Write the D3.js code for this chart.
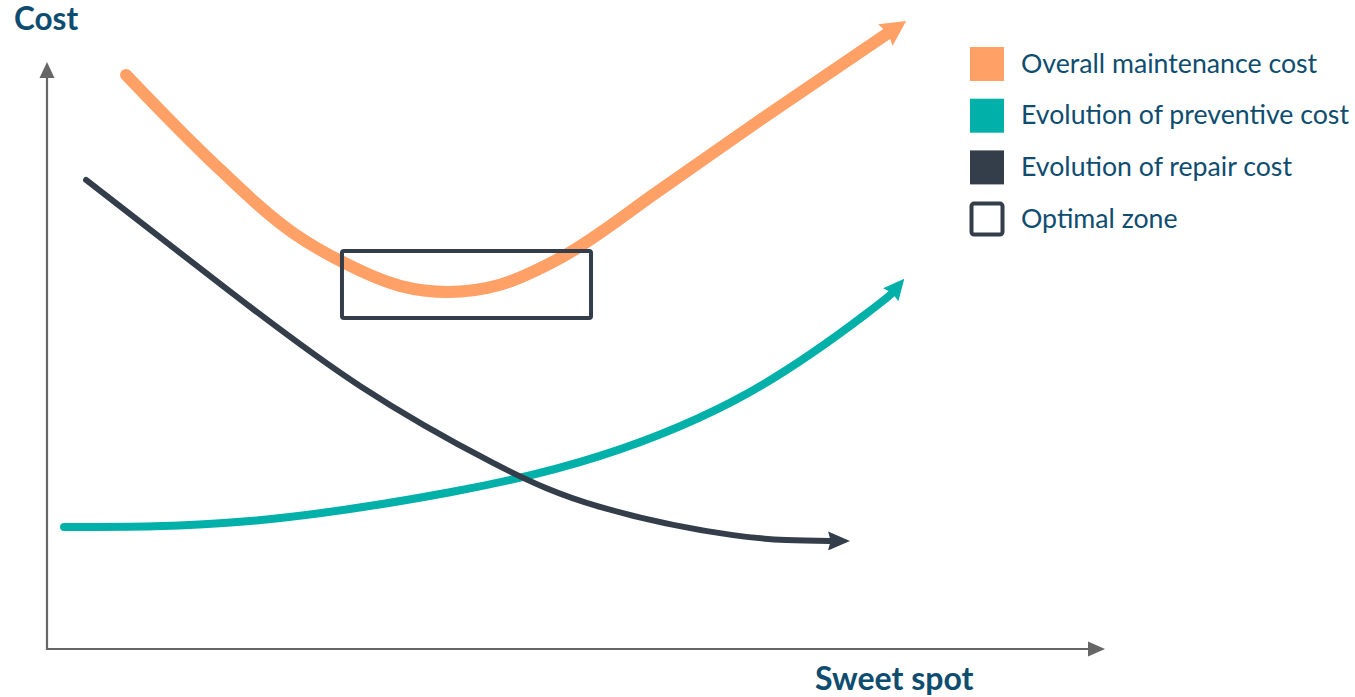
<!DOCTYPE html>
<html>
<head>
<meta charset="utf-8">
<script src="https://cdn.jsdelivr.net/npm/d3@7"></script>
<style>
  html, body { margin: 0; padding: 0; background: #ffffff; }
  svg { display: block; }
  text { font-family: Lato, "Noto Sans", sans-serif; }
</style>
</head>
<body>
<svg id="chart" width="1355" height="697"></svg>
<script>
// ---- data (abstract units: x = effort / sweet spot axis, y = cost) ----
const seriesNames = ["Overall maintenance cost", "Evolution of preventive cost", "Evolution of repair cost", "Optimal zone"];
const seriesColors = ["#ffa066", "#00b0a9", "#333e4a", "#333e4a"];

const overallX = [7.47, 15.41, 23.25, 27.88, 33.36, 37.90, 42.82, 48.49, 57.94, 67.39, 79.40];
const overallY = [97.8, 83.3, 70.9, 65.98, 61.87, 60.82, 62.06, 66.59, 78.19, 90.1, 104.8];

const preventiveX = [1.61, 19.19, 38.09, 52.27, 66.45, 77.50, 79.87];
const preventiveY = [20.8, 21.8, 26.7, 32.9, 43.8, 57.2, 60.6];

const repairX = [3.69, 17.01, 29.58, 42.16, 52.27, 64.84, 74.01];
const repairY = [79.9, 61.3, 44.8, 31.7, 24.2, 19.4, 18.4];

const zoneX = [27.88, 51.42];
const zoneY = [56.4, 67.8];

const yTitle = "Cost";
const xTitle = "Sweet spot";

// ---- layout ----
const svg = d3.select("#chart");
const x = d3.scaleLinear().domain([0, 100]).range([47, 1105]);
const y = d3.scaleLinear().domain([0, 100]).range([649, 62]);

const axisColor = "#666666";
const textColor = "#0e4d6f";

const defs = svg.append("defs");
function arrowMarker(id, color, len, wid) {
  const m = defs.append("marker")
    .attr("id", id)
    .attr("markerUnits", "userSpaceOnUse")
    .attr("viewBox", `0 ${-wid / 2} ${len} ${wid}`)
    .attr("markerWidth", len)
    .attr("markerHeight", wid)
    .attr("refX", 2)
    .attr("refY", 0)
    .attr("orient", "auto");
  m.append("path")
    .attr("d", `M0,${-wid / 2} L${len},0 L0,${wid / 2} L${len * 0.12},0 Z`)
    .attr("fill", color);
}
arrowMarker("arrOrange", seriesColors[0], 25, 26);
arrowMarker("arrTeal", seriesColors[1], 21, 20);
arrowMarker("arrDark", seriesColors[2], 22, 19);

// axes with arrow heads
const axisG = svg.append("g");
const [x0, x1] = x.range();
const [yb, yt] = y.range();
axisG.append("line")
  .attr("x1", x0).attr("y1", yb + 1).attr("x2", x0).attr("y2", yt + 14)
  .attr("stroke", axisColor).attr("stroke-width", 2.2);
axisG.append("path")
  .attr("d", `M${x0},${yt} L${x0 - 7.5},${yt + 16} L${x0 + 7.5},${yt + 16} Z`)
  .attr("fill", axisColor);
axisG.append("line")
  .attr("x1", x0 - 1).attr("y1", yb).attr("x2", x1 - 14).attr("y2", yb)
  .attr("stroke", axisColor).attr("stroke-width", 2.2);
axisG.append("path")
  .attr("d", `M${x1},${yb} L${x1 - 17},${yb - 7.5} L${x1 - 17},${yb + 7.5} Z`)
  .attr("fill", axisColor);

// axis titles
svg.append("text")
  .attr("x", 14).attr("y", 30)
  .attr("font-size", 31.5).attr("font-weight", 700)
  .attr("fill", textColor)
  .text(yTitle);
svg.append("text")
  .attr("x", 815).attr("y", 690)
  .attr("font-size", 32).attr("font-weight", 700)
  .attr("fill", textColor)
  .text(xTitle);

// curves
function drawSeries(xs, ys, color, width, marker, curve) {
  const pts = xs.map((v, i) => [v, ys[i]]);
  const line = d3.line()
    .x(d => x(d[0]))
    .y(d => y(d[1]))
    .curve(curve);
  svg.append("path")
    .attr("d", line(pts))
    .attr("fill", "none")
    .attr("stroke", color)
    .attr("stroke-width", width)
    .attr("stroke-linecap", "round")
    .attr("stroke-linejoin", "round")
    .attr("marker-end", `url(#${marker})`);
}

drawSeries(preventiveX, preventiveY, seriesColors[1], 8, "arrTeal", d3.curveNatural);
drawSeries(repairX, repairY, seriesColors[2], 6, "arrDark", d3.curveNatural);
drawSeries(overallX, overallY, seriesColors[0], 12, "arrOrange", d3.curveMonotoneX);

// optimal zone
svg.append("rect")
  .attr("x", x(zoneX[0]))
  .attr("y", y(zoneY[1]))
  .attr("width", x(zoneX[1]) - x(zoneX[0]))
  .attr("height", y(zoneY[0]) - y(zoneY[1]))
  .attr("rx", 2)
  .attr("fill", "none")
  .attr("stroke", seriesColors[3])
  .attr("stroke-width", 4);

// legend
const legend = svg.append("g").attr("transform", "translate(970,47)");
const items = legend.selectAll("g").data(seriesNames).join("g")
  .attr("transform", (d, i) => `translate(0,${i * 51.7})`);
items.append("rect")
  .attr("x", (d, i) => i === 3 ? 1.5 : 0)
  .attr("y", (d, i) => i === 3 ? 1.5 : 0)
  .attr("width", (d, i) => i === 3 ? 31 : 34)
  .attr("height", (d, i) => i === 3 ? 31 : 34)
  .attr("rx", (d, i) => i === 3 ? 2.5 : 0)
  .attr("fill", (d, i) => i === 3 ? "#ffffff" : seriesColors[i])
  .attr("stroke", (d, i) => i === 3 ? seriesColors[i] : "none")
  .attr("stroke-width", 4);
items.append("text")
  .attr("x", 51)
  .attr("y", 25.5)
  .attr("font-size", 26.7)
  .attr("fill", textColor)
  .text(d => d);
</script>
</body>
</html>
